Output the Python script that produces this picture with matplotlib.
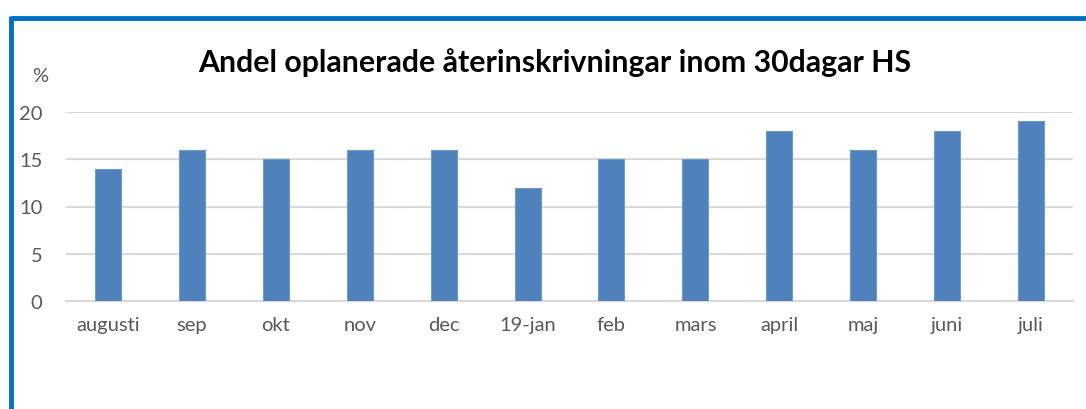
import matplotlib
matplotlib.use("Agg")
import matplotlib.pyplot as plt
from matplotlib.lines import Line2D

categories = ["augusti", "sep", "okt", "nov", "dec", "19-jan", "feb", "mars", "april", "maj", "juni", "juli"]
values = [14, 16, 15, 16, 16, 12, 15, 15, 18, 16, 18, 19]
yticks = [0, 5, 10, 15, 20]
title = "Andel oplanerade återinskrivningar inom 30dagar HS"

W, H = 1086, 410
fig = plt.figure(figsize=(W / 100, H / 100), dpi=100)
ax = fig.add_axes([66 / W, 1 - 302 / H, (1073 - 66) / W, (302 - 113) / H])

x = list(range(len(categories)))
ax.bar(x, values, width=0.31, color="#4F81BD", edgecolor="#6f98cc", linewidth=0.8, zorder=3)
ax.set_xlim(-0.5, len(categories) - 0.5)
ax.set_ylim(0, 20)
ax.set_yticks(yticks)
ax.set_xticks(x)
ax.set_xticklabels(categories)
ax.yaxis.grid(True, color="#d9d9d9", linewidth=1.5, zorder=0)
ax.set_axisbelow(True)
for s in ["top", "right", "left"]:
    ax.spines[s].set_visible(False)
ax.spines["bottom"].set_color("#d9d9d9")
ax.spines["bottom"].set_linewidth(1.5)
ax.tick_params(axis="both", length=0, labelsize=14.5, labelcolor="#595959")
ax.tick_params(axis="x", pad=11)
ax.tick_params(axis="y", pad=17)
for lab in ax.get_xticklabels() + ax.get_yticklabels():
    lab.set_fontfamily("Lato")

fig.text(40 / W, 1 - 77 / H, "%", ha="center", va="center", fontsize=14.5,
         color="#595959", fontfamily="Lato")
fig.text(555 / W, 1 - 63 / H, title, ha="center", va="center", fontsize=21.8,
         fontweight="bold", color="#000000", fontfamily="Lato")

# blue frame (top and left)
fig.add_artist(Line2D([11 / W, 1.0], [1 - 18.5 / H, 1 - 18.5 / H], color="#0070C0", linewidth=3.5,
                      transform=fig.transFigure, solid_capstyle="butt"))
fig.add_artist(Line2D([11 / W, 11 / W], [1 - 17 / H, 0.0], color="#0070C0", linewidth=3.5,
                      transform=fig.transFigure, solid_capstyle="butt"))

fig.savefig("out.png", dpi=100)
